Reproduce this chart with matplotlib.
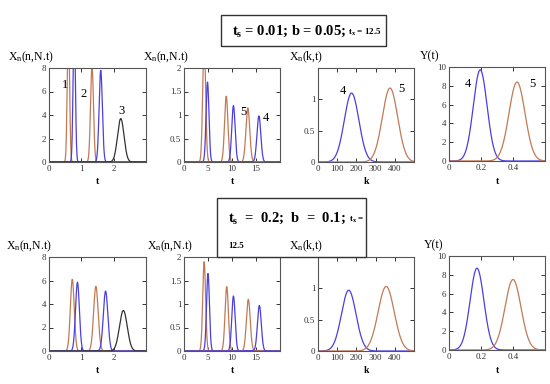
import numpy as np
import matplotlib
matplotlib.use('Agg')
from matplotlib import pyplot as plt
from matplotlib import patches

plt.rcParams['font.family'] = 'Liberation Serif'
plt.rcParams['mathtext.fontset'] = 'custom'
plt.rcParams['mathtext.rm'] = 'Liberation Serif'
plt.rcParams['mathtext.it'] = 'Liberation Serif'
plt.rcParams['mathtext.bf'] = 'Liberation Serif:bold'

BLUE = '#4b3fe0'
ORANGE = '#c27a55'
BLACK = '#333333'

# peak parameters: centre, height, width (sigma), colour
# top row: t_s = 0.01; b = 0.05
P1_CENTER = [0.60, 0.78, 1.33, 1.60, 2.22]
P1_HEIGHT = [12.0, 12.0, 8.2, 7.8, 3.7]
P1_WIDTH = [0.035, 0.035, 0.045, 0.05, 0.10]
P1_COLOR = [ORANGE, BLUE, ORANGE, BLUE, BLACK]

P2_CENTER = [4.2, 4.9, 8.8, 10.3, 13.3, 15.6]
P2_HEIGHT = [2.6, 1.7, 1.4, 1.2, 1.15, 0.98]
P2_WIDTH = [0.3, 0.3, 0.35, 0.35, 0.4, 0.4]
P2_COLOR = [ORANGE, BLUE, ORANGE, BLUE, ORANGE, BLUE]

P3_CENTER = [175, 375]
P3_HEIGHT = [1.10, 1.18]
P3_WIDTH = [38, 40]
P3_COLOR = [BLUE, ORANGE]

P4_CENTER = [0.195, 0.425]
P4_HEIGHT = [9.7, 8.4]
P4_WIDTH = [0.043, 0.05]
P4_COLOR = [BLUE, ORANGE]

# bottom row: t_s = 0.2; b = 0.1
P5_CENTER = [0.72, 0.88, 1.45, 1.75, 2.30]
P5_HEIGHT = [6.1, 5.85, 5.5, 5.1, 3.45]
P5_WIDTH = [0.06, 0.06, 0.07, 0.07, 0.12]
P5_COLOR = [ORANGE, BLUE, ORANGE, BLUE, BLACK]

P6_CENTER = [4.2, 5.0, 8.9, 10.3, 13.4, 15.7]
P6_HEIGHT = [1.9, 1.65, 1.37, 1.17, 1.1, 0.97]
P6_WIDTH = [0.3, 0.3, 0.35, 0.35, 0.4, 0.4]
P6_COLOR = [ORANGE, BLUE, ORANGE, BLUE, ORANGE, BLUE]

P7_CENTER = [160, 355]
P7_HEIGHT = [0.97, 1.03]
P7_WIDTH = [38, 42]
P7_COLOR = [BLUE, ORANGE]

P8_CENTER = [0.175, 0.400]
P8_HEIGHT = [8.7, 7.5]
P8_WIDTH = [0.043, 0.05]
P8_COLOR = [BLUE, ORANGE]

W, H = 550, 384


def rect(x0, y0, x1, y1):
    return [x0 / W, 1 - y1 / H, (x1 - x0) / W, (y1 - y0) / H]


def peaks(ax, xmax, centers, heights, widths, colors):
    x = np.linspace(0, xmax, 600)
    for c, h, w, col in zip(centers, heights, widths, colors):
        ax.plot(x, h * np.exp(-0.5 * ((x - c) / w) ** 2), color=col, lw=0.9)


def style(ax, xlim, ylim, xticks, yticks, xlabels, ylabels):
    ax.set_xlim(xlim)
    ax.set_ylim(ylim)
    ax.set_xticks(xticks, xlabels)
    ax.set_yticks(yticks, ylabels)
    ax.tick_params(direction='in', top=True, right=True, length=3, width=0.7,
                   labelsize=6.5, pad=2, colors='#333333')
    for s in ax.spines.values():
        s.set_linewidth(0.8)
        s.set_color('#555555')


fig = plt.figure(figsize=(5.5, 3.84), dpi=100)

T_TICKS = [0, 1, 2]
N_TICKS = [0, 2, 4, 6, 8]
NT_TICKS = [0, 5, 10, 15]
H2_TICKS = [0, 0.5, 1, 1.5, 2]
K_TICKS = [0, 100, 200, 300, 400]
H1_TICKS = [0, 0.5, 1]
Y_TICKS = [0, 2, 4, 6, 8, 10]
YT_TICKS = [0, 0.2, 0.4]

rows = [
    (0, [P1_CENTER, P1_HEIGHT, P1_WIDTH, P1_COLOR],
        [P2_CENTER, P2_HEIGHT, P2_WIDTH, P2_COLOR],
        [P3_CENTER, P3_HEIGHT, P3_WIDTH, P3_COLOR],
        [P4_CENTER, P4_HEIGHT, P4_WIDTH, P4_COLOR]),
    (1, [P5_CENTER, P5_HEIGHT, P5_WIDTH, P5_COLOR],
        [P6_CENTER, P6_HEIGHT, P6_WIDTH, P6_COLOR],
        [P7_CENTER, P7_HEIGHT, P7_WIDTH, P7_COLOR],
        [P8_CENTER, P8_HEIGHT, P8_WIDTH, P8_COLOR]),
]

for r, d1, d2, d3, d4 in rows:
    y0, y1 = (68, 162) if r == 0 else (257, 351)
    ylab = 60 if r == 0 else 249
    xlab = 184 if r == 0 else 373

    a1 = fig.add_axes(rect(49, y0, 146, y1))
    peaks(a1, 3, *d1)
    style(a1, (0, 3), (0, 8), T_TICKS, N_TICKS,
          [str(v) for v in T_TICKS], [str(v) for v in N_TICKS])

    a2 = fig.add_axes(rect(184, y0, 280, y1))
    peaks(a2, 20, *d2)
    style(a2, (0, 20), (0, 2), NT_TICKS, H2_TICKS,
          [str(v) for v in NT_TICKS], ['0', '0.5', '1', '1.5', '2'])

    a3 = fig.add_axes(rect(318, y0, 414, y1))
    peaks(a3, 500, *d3)
    style(a3, (0, 500), (0, 1.5), K_TICKS, H1_TICKS,
          [str(v) for v in K_TICKS], ['0', '0.5', '1'])

    a4 = fig.add_axes(rect(449, y0 - 1, 545, y1 - 1))
    peaks(a4, 0.6, *d4)
    style(a4, (0, 0.6), (0, 10), YT_TICKS, Y_TICKS,
          ['0', '0.2', '0.4'], [str(v) for v in Y_TICKS])

    # axis titles above each plot, MathCAD style
    fig.text(8 / W if r == 0 else 6 / W, 1 - ylab / H, r'X$_\mathregular{n}$(n,N.t)', fontsize=8.5)
    fig.text(143 / W if r == 0 else 147 / W, 1 - ylab / H, r'X$_\mathregular{n}$(n,N.t)', fontsize=8.5)
    fig.text(289 / W, 1 - ylab / H, r'X$_\mathregular{n}$(k,t)', fontsize=8.5, zorder=7)
    fig.text(420 / W if r == 0 else 424 / W, 1 - (ylab - 1) / H, 'Y(t)', fontsize=8.5)

    for xc, lab in [(97, 't'), (232, 't'), (366, 'k'), (497, 't')]:
        fig.text(xc / W, 1 - xlab / H, lab, fontsize=7, weight='bold', ha='center')

    if r == 0:
        a1.text(0.41, 6.3, '1', fontsize=9)
        a1.text(0.97, 5.5, '2', fontsize=9)
        a1.text(2.15, 4.1, '3', fontsize=9)
        a2.text(11.7, 1.0, '5', fontsize=9)
        a2.text(16.4, 0.88, '4', fontsize=9)
        a3.text(115, 1.08, '4', fontsize=9)
        a3.text(420, 1.12, '5', fontsize=9)
        a4.text(0.10, 7.9, '4', fontsize=9)
        a4.text(0.50, 7.9, '5', fontsize=9)

# parameter boxes
renderer = fig.canvas.get_renderer()

fig.patches.append(patches.Rectangle((221 / W, 1 - 46 / H), 165 / W, 31 / H,
                   transform=fig.transFigure, fill=False, lw=1.0, ec='#333333'))
t1 = fig.text(232 / W, 1 - 35 / H, r't$_\mathregular{s}$ = 0.01; b = 0.05;', fontsize=10.5, weight='bold')
bb = t1.get_window_extent(renderer)
fig.text(bb.x1 / W + 2 / W, 1 - 35 / H, r't$_\mathregular{x}$ = 12.5', fontsize=6.5, weight='bold')

fig.patches.append(patches.Rectangle((217 / W, 1 - 257 / H), 149 / W, 59 / H,
                   transform=fig.transFigure, facecolor='white', lw=1.0, ec='#333333', zorder=5))
t2 = fig.text(228 / W, 1 - 222 / H, r't$_\mathregular{s}$  =  0.2;  b  =  0.1;', fontsize=10.5,
              weight='bold', zorder=6)
bb = t2.get_window_extent(renderer)
fig.text(bb.x1 / W + 3 / W, 1 - 222 / H, r't$_\mathregular{x}$ =', fontsize=6.5, weight='bold', zorder=6)
fig.text(228 / W, 1 - 248 / H, '12.5', fontsize=6.5, weight='bold', zorder=6)

plt.savefig('out.png', dpi=100)
